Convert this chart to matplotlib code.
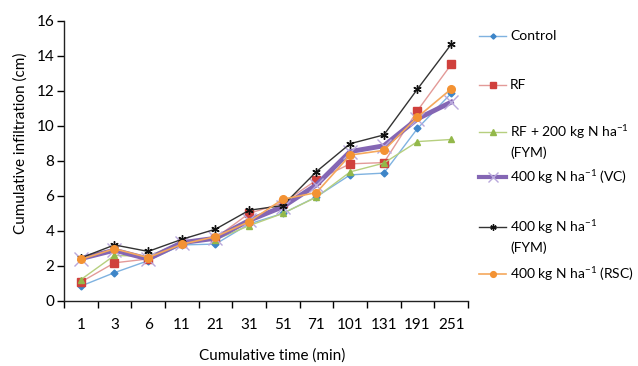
import matplotlib
matplotlib.use("Agg")
import matplotlib.pyplot as plt
from matplotlib.lines import Line2D
import numpy as np

plt.rcParams['font.family'] = ['Lato', 'DejaVu Sans']
plt.rcParams['mathtext.fontset'] = 'custom'
plt.rcParams['mathtext.rm'] = 'Lato'
plt.rcParams['mathtext.it'] = 'Lato'

times = ["1", "3", "6", "11", "21", "31", "51", "71", "101", "131", "191", "251"]

control = [0.85, 1.62, 2.3, 3.2, 3.25, 4.4, 5.0, 5.95, 7.2, 7.3, 9.85, 11.85]
rf = [1.08, 2.18, 2.4, 3.3, 3.6, 5.0, 5.6, 6.9, 7.83, 7.9, 10.87, 13.5]
rf_fym200 = [1.22, 2.6, 2.55, 3.35, 3.5, 4.3, 5.0, 5.93, 7.37, 7.87, 9.1, 9.22]
vc400 = [2.42, 2.9, 2.4, 3.33, 3.58, 4.6, 5.38, 6.63, 8.53, 8.86, 10.4, 11.35]
fym400 = [2.46, 3.2, 2.83, 3.52, 4.1, 5.18, 5.45, 7.39, 8.98, 9.48, 12.1, 14.65]
rsc400 = [2.38, 2.98, 2.48, 3.24, 3.67, 4.53, 5.81, 6.19, 8.33, 8.6, 10.5, 12.1]

labels = [
    "Control",
    "RF",
    "RF + 200 kg N ha$^{\\mathregular{-1}}$\n(FYM)",
    "400 kg N ha$^{\\mathregular{-1}}$ (VC)",
    "400 kg N ha$^{\\mathregular{-1}}$\n(FYM)",
    "400 kg N ha$^{\\mathregular{-1}}$ (RSC)",
]
series = [control, rf, rf_fym200, vc400, fym400, rsc400]

styles = [
    dict(color="#7fb2e0", lw=1.0, marker="D", ms=3.5, mfc="#3d85c8", mec="#3d85c8"),
    dict(color="#e39a98", lw=1.0, marker="s", ms=5.5, mfc="#d0403c", mec="#d0403c"),
    dict(color="#b6cf7e", lw=1.0, marker="^", ms=5.0, mfc="#93b84a", mec="#93b84a"),
    dict(color="#8466b4", lw=3.5, marker="x", ms=10, mfc="#b9a8dc", mec="#b9a8dc", mew=1.0),
    dict(color="#333333", lw=1.0, marker=(6, 2, 0), ms=6, mfc="#111111", mec="#111111", mew=1.0),
    dict(color="#f5a85c", lw=1.2, marker="o", ms=5.5, mfc="#f39233", mec="#f39233"),
]

fig = plt.figure(figsize=(6.38, 3.66), dpi=100)
ax = fig.add_axes([64 / 638, 1 - 301 / 366, 404 / 638, 280.3 / 366])

x = np.arange(len(times))
for vals, st in zip(series, styles):
    ax.plot(x, vals, **st)

ax.set_xlim(-0.5, len(times) - 0.5)
ax.set_ylim(0, 16)
ax.set_yticks(np.arange(0, 17, 2))
ax.set_xticks(x)
ax.set_xticklabels(times)
ax.set_xticks(np.arange(-0.5, len(times), 1), minor=True)
ax.tick_params(axis='x', which='major', length=0, pad=12, labelsize=11)
ax.tick_params(axis='x', which='minor', length=5, direction='out', width=1)
ax.tick_params(axis='y', length=5, direction='out', width=1, labelsize=11, pad=2)

for s in ['top', 'right']:
    ax.spines[s].set_visible(False)
for s in ['left', 'bottom']:
    ax.spines[s].set_color('#222222')
    ax.spines[s].set_linewidth(1.0)

ax.set_xlabel("Cumulative time (min)", fontsize=11)
ax.xaxis.set_label_coords((272 - 64) / 404, -(356 - 301) / 280.3, transform=ax.transAxes)
ax.xaxis.label.set_va('center')
ax.set_ylabel("Cumulative infiltration (cm)", fontsize=11)
ax.yaxis.set_label_coords(-(64 - 21) / 404, (301 - 143) / 280.3)
ax.yaxis.label.set_va('center')

# manual legend (handle aligned to first text line)
leg_y = [36, 85, 132, 177, 227, 274]
W, H = 638, 366
for yy, lab, st in zip(leg_y, labels, styles):
    yf = 1 - yy / H
    line = Line2D([479 / W, 506 / W], [yf, yf], transform=fig.transFigure,
                  color=st['color'], lw=min(st['lw'], 3.0))
    fig.add_artist(line)
    mk = {k: v for k, v in st.items() if k in ('marker', 'mfc', 'mec', 'mew')}
    ms = st['ms'] * 0.75
    m = Line2D([492.5 / W], [yf], transform=fig.transFigure, ls='none', ms=ms, **mk)
    fig.add_artist(m)
    first, *rest = lab.split("\n")
    fig.text(510 / W, yf, first, fontsize=10, va='center', ha='left')
    if rest:
        fig.text(510 / W, 1 - (yy + 21) / H, rest[0], fontsize=10, va='center', ha='left')

fig.savefig("out.png", dpi=100)
